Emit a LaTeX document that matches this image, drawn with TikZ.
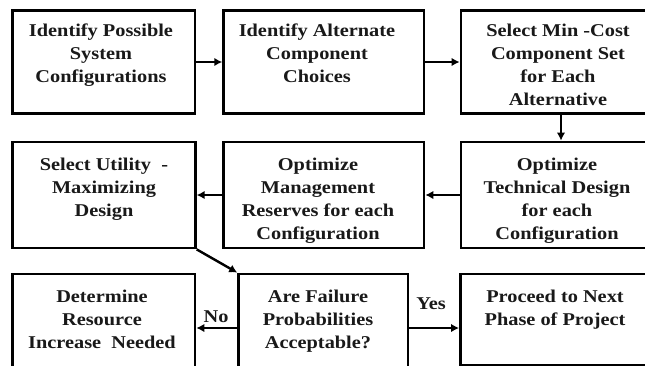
\documentclass[tikz,border=0pt]{standalone}
\usepackage{fontspec}
\setmainfont{Liberation Serif}[FakeStretch=1.13]
\usetikzlibrary{arrows.meta}
\begin{document}
\begin{tikzpicture}[x=1pt,y=-1pt,
  boxnode/.style={draw=black, line width=2.8pt, rectangle, inner sep=0pt, fill=white},
  txt/.style={anchor=base, align=center, inner sep=0pt, font=\fontsize{18}{23}\selectfont\bfseries, text=black!90},
  lbl/.style={anchor=base, inner sep=0pt, font=\fontsize{18}{23}\selectfont\bfseries, text=black!90},
  conn/.style={line width=2.4pt, -{Latex[length=8pt,width=8.5pt]}}]
\useasboundingbox (0,0) rectangle (645,365);
\clip (0,0) rectangle (645,365);
% row 1
\node[boxnode, minimum width=182.7pt, minimum height=103.7pt] (b1) at (103.6,62) {};
\node[boxnode, minimum width=200.3pt, minimum height=103.7pt] (b2) at (323.8,62) {};
\node[boxnode, minimum width=200pt, minimum height=103.7pt] (b3) at (561,62) {};
% row 2
\node[boxnode, minimum width=183pt, minimum height=106pt] (u) at (103.8,195) {};
\node[boxnode, minimum width=200.3pt, minimum height=106pt] (m) at (323.8,195) {};
\node[boxnode, minimum width=200pt, minimum height=106pt] (t) at (561,195) {};
% row 3
\node[boxnode, minimum width=182.7pt, minimum height=108pt] (d) at (103.6,328) {};
\node[boxnode, minimum width=169.3pt, minimum height=108pt] (f) at (323.3,328) {};
\node[boxnode, minimum width=200.5pt, minimum height=91.5pt] (p) at (560.7,319.75) {};
% texts (anchored at the baseline of the last line)
\node[txt] (tb1) at (101,82) {Identify Possible\\System\\Configurations};
\node[txt] (tb2) at (317,82) {Identify Alternate\\Component\\Choices};
\node[txt] (tb3) at (558,105) {Select Min -Cost\\Component Set\\for Each\\Alternative};
\node[txt] (tu) at (104,216) {Select Utility~~-\\Maximizing\\Design};
\node[txt] (tm) at (318,239) {Optimize\\Management\\Reserves for each\\Configuration};
\node[txt] (tt) at (557,239) {Optimize\\Technical Design\\for each\\Configuration};
\node[txt] (td) at (102,348) {Determine\\Resource\\Increase~~Needed};
\node[txt] (tf) at (318,348) {Are Failure\\Probabilities\\Acceptable?};
\node[txt] (tp) at (555,325) {Proceed to Next\\Phase of Project};
% connectors
\draw[conn] (b1.east) -- (b2.west);
\draw[conn] (b2.east) -- (b3.west);
\draw[conn] (b3.south) -- (t.north);
\draw[conn] (t.west) -- (m.east);
\draw[conn] (m.west) -- (u.east);
\draw[conn] (u.south east) -- (f.north west);
\draw[conn] (f.west) -- (d.east);
\draw[conn] (f.east) -- (p.west |- f.east);
\node[lbl] (no) at (216,322) {No};
\node[lbl] (yes) at (431,309) {Yes};
\end{tikzpicture}
\end{document}
